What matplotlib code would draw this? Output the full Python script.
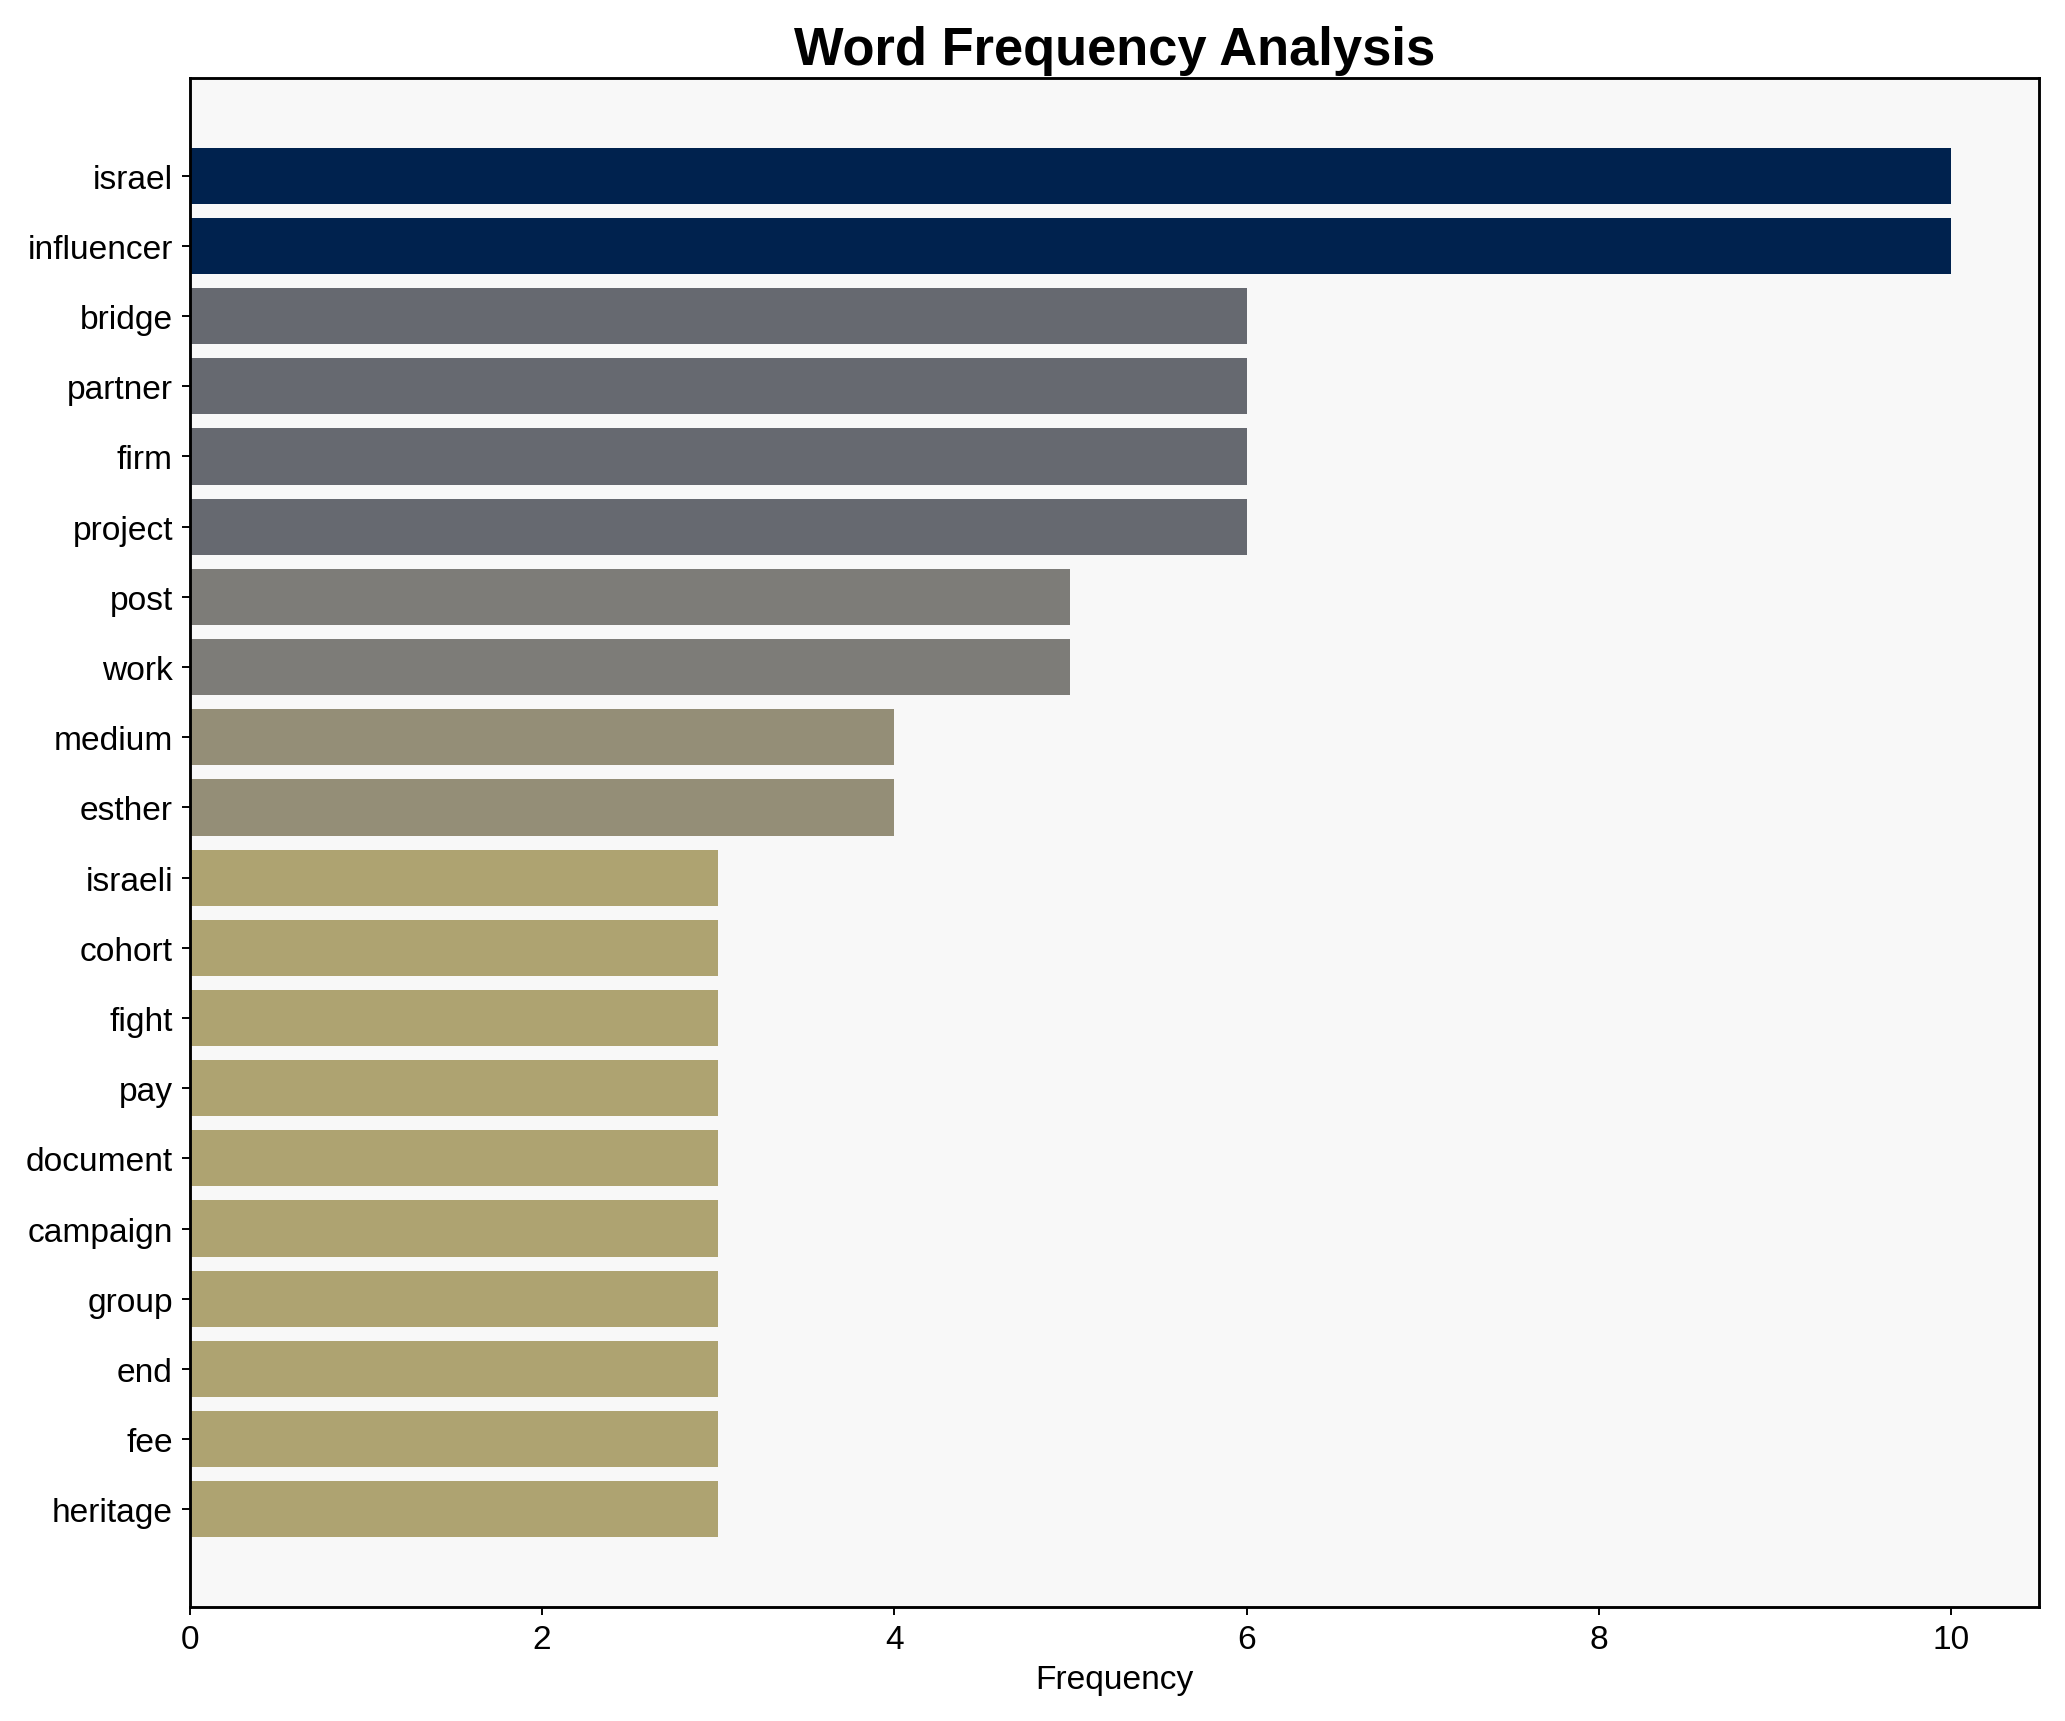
import matplotlib
matplotlib.use("Agg")
import matplotlib.pyplot as plt
import numpy as np

words = ["israel", "influencer", "bridge", "partner", "firm", "project", "post", "work",
         "medium", "esther", "israeli", "cohort", "fight", "pay", "document", "campaign",
         "group", "end", "fee", "heritage"]
counts = [10, 10, 6, 6, 6, 6, 5, 5, 4, 4, 3, 3, 3, 3, 3, 3, 3, 3, 3, 3]

plt.rcParams['font.family'] = ['Liberation Sans', 'DejaVu Sans']

fig, ax = plt.subplots(figsize=(2065 / 172.1, 1722 / 172.1), dpi=172.1)
vals = np.array(counts, dtype=float)
colors = plt.cm.cividis(1 - vals / vals.max())
y = np.arange(len(words))
ax.barh(y, vals, color=colors, height=0.8)
ax.set_yticks(y)
ax.set_yticklabels(words, fontsize=14)
ax.invert_yaxis()
ax.tick_params(axis='x', labelsize=14)
ax.set_xlabel("Frequency", fontsize=14)
ax.set_title("Word Frequency Analysis", fontsize=22, fontweight='bold')
ax.set_facecolor("#f8f8f8")
for s in ax.spines.values():
    s.set_linewidth(1.2)
fig.tight_layout()
fig.savefig("out.png", dpi=172.1)
